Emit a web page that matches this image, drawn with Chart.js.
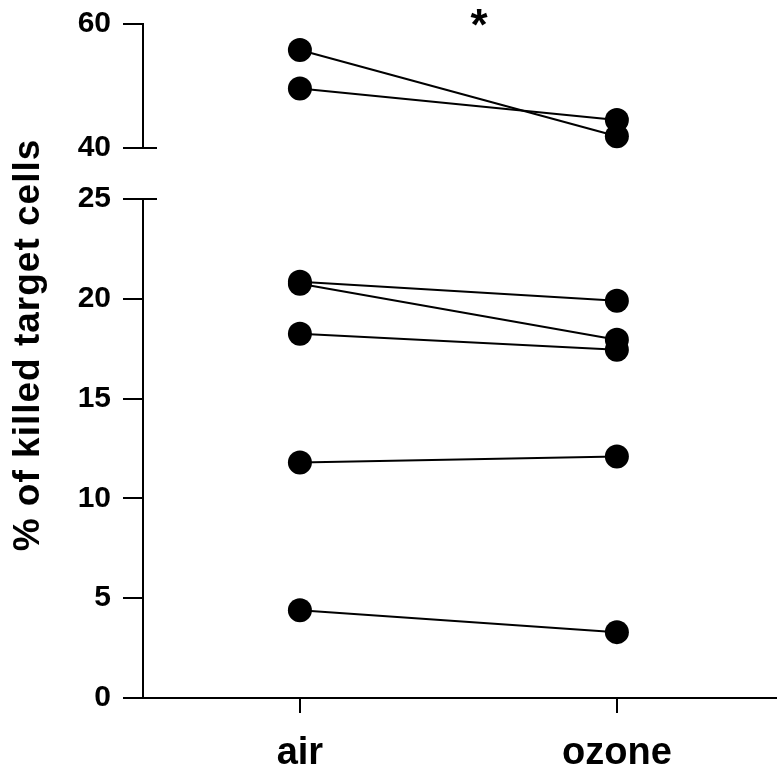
<!DOCTYPE html>
<html>
<head>
<meta charset="utf-8">
<script src="https://cdn.jsdelivr.net/npm/chart.js@4.4.0/dist/chart.umd.min.js"></script>
<style>
  html, body { margin: 0; padding: 0; background: #fff; }
  #wrap { position: relative; width: 778px; height: 782px; }
  #lowCanvas { position: absolute; left: 0; top: 0; }
  #highCanvas { position: absolute; left: 0; top: 0; }
</style>
</head>
<body>
<div id="wrap">
  <canvas id="lowCanvas" width="778" height="782"></canvas>
  <canvas id="highCanvas" width="778" height="175"></canvas>
</div>
<script>
// categories (x positions 0 and 1)
var categories = ["air", "ozone"];
// paired values, upper part of the broken axis (40-60)
var airHigh = [55.8, 49.6];
var ozoneHigh = [41.9, 44.5];
// paired values, lower part of the broken axis (0-25)
var airLow = [20.85, 20.75, 18.25, 11.8, 4.4];
var ozoneLow = [19.9, 17.95, 17.45, 12.1, 3.3];
// tick labels
var lowTicks = [0, 5, 10, 15, 20, 25];
var highTicks = [40, 60];
var yTitle = "% of killed target cells";
var sigMark = { x: 0.565, y: 60.6, text: "*" };

var FONT = "'Liberation Sans', Arial, Helvetica, sans-serif";
var X_MIN = -0.495, X_MAX = 1.502;

function pairs(a, b) {
    var sets = [];
    for (var i = 0; i < a.length; i++) {
        sets.push({
            data: [{x: 0, y: a[i]}, {x: 1, y: b[i]}],
            borderColor: "#000",
            borderWidth: 2,
            backgroundColor: "#000",
            pointRadius: 12,
            pointBorderWidth: 0,
            pointHoverRadius: 12,
            showLine: true,
            clip: false,
        });
    }
    return sets;
}

function yAxis(min, max, ticks) {
    return {
        type: "linear",
        min: min,
        max: max,
        afterBuildTicks: function(scale) {
            scale.ticks = ticks.map(function(v) { return {value: v}; });
        },
        afterFit: function(scale) {
            scale.width = 143;
            scale.paddingTop = 0;
            scale.paddingBottom = 0;
        },
        border: { color: "#000", width: 2 },
        grid: { drawOnChartArea: false, color: "#000", lineWidth: 2, tickLength: 20 },
        ticks: { color: "#000", padding: 12, font: { family: FONT, size: 30, weight: "bold" } },
    };
}

// short marks that show the axis break
function breakMark(value) {
    return {
        id: "breakMark",
        afterDraw: function(chart) {
            var ctx = chart.ctx;
            var y = chart.scales.y.getPixelForValue(value);
            ctx.save();
            ctx.strokeStyle = "#000";
            ctx.lineWidth = 2;
            ctx.beginPath();
            ctx.moveTo(chart.chartArea.left, y);
            ctx.lineTo(chart.chartArea.left + 14, y);
            ctx.stroke();
            ctx.restore();
        }
    };
}

var titlePlugin = {
    id: "yTitle",
    afterDraw: function(chart) {
        var ctx = chart.ctx;
        ctx.save();
        ctx.translate(29, 345);
        ctx.rotate(-Math.PI / 2);
        ctx.font = "bold 37px " + FONT;
        ctx.letterSpacing = "1px";
        ctx.fillStyle = "#000";
        ctx.textAlign = "center";
        ctx.textBaseline = "middle";
        ctx.fillText(yTitle, 0, 0);
        ctx.restore();
    }
};

var starPlugin = {
    id: "star",
    afterDraw: function(chart) {
        var ctx = chart.ctx;
        var x = chart.scales.x.getPixelForValue(sigMark.x);
        var y = chart.scales.y.getPixelForValue(sigMark.y);
        ctx.save();
        ctx.font = "bold 44px " + FONT;
        ctx.fillStyle = "#000";
        ctx.textAlign = "center";
        ctx.textBaseline = "middle";
        ctx.fillText(sigMark.text, x, y + 8);
        ctx.restore();
    }
};

var lowChart = new Chart(document.getElementById("lowCanvas").getContext("2d"), {
    type: "scatter",
    data: { datasets: pairs(airLow, ozoneLow) },
    options: {
        responsive: false,
        animation: false,
        events: [],
        layout: { autoPadding: false, padding: { top: 199, right: 2, left: 0, bottom: 0 } },
        plugins: { legend: { display: false }, tooltip: { enabled: false } },
        scales: {
            x: {
                type: "linear",
                min: X_MIN,
                max: X_MAX,
                afterBuildTicks: function(scale) {
                    scale.ticks = categories.map(function(c, i) { return {value: i}; });
                },
                afterFit: function(scale) {
                    scale.height = 84;
                    scale.paddingLeft = 0;
                    scale.paddingRight = 0;
                },
                border: { color: "#000", width: 2 },
                grid: { drawOnChartArea: false, color: "#000", lineWidth: 2, tickLength: 15 },
                ticks: {
                    color: "#000",
                    padding: 18,
                    font: { family: FONT, size: 38, weight: "bold" },
                    callback: function(v) { return categories[v]; }
                }
            },
            y: yAxis(0, 25, lowTicks)
        }
    },
    plugins: [titlePlugin, breakMark(25)]
});

var highChart = new Chart(document.getElementById("highCanvas").getContext("2d"), {
    type: "scatter",
    data: { datasets: pairs(airHigh, ozoneHigh) },
    options: {
        responsive: false,
        animation: false,
        events: [],
        layout: { autoPadding: false, padding: { top: 24, right: 2, left: 0, bottom: 27 } },
        plugins: { legend: { display: false }, tooltip: { enabled: false } },
        scales: {
            x: { type: "linear", min: X_MIN, max: X_MAX, display: false },
            y: yAxis(40, 60, highTicks)
        }
    },
    plugins: [starPlugin, breakMark(40)]
});
</script>
</body>
</html>
